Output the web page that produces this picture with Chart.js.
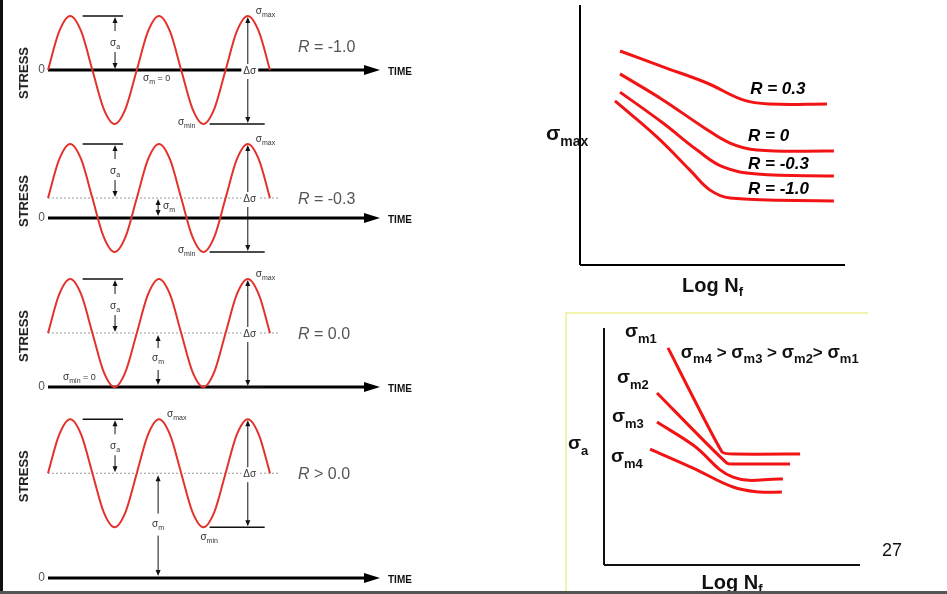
<!DOCTYPE html>
<html>
<head>
<meta charset="utf-8">
<script src="https://cdn.jsdelivr.net/npm/chart.js@4/dist/chart.umd.min.js"></script>
<style>
html, body { margin: 0; padding: 0; background: #fff; }
body { width: 947px; height: 594px; position: relative; overflow: hidden; }
canvas { position: absolute; }
.edge { position: absolute; }
</style>
</head>
<body>
<canvas id="wave0" width="430" height="136" style="left:0;top:0"></canvas>
<canvas id="wave1" width="430" height="132" style="left:0;top:136px"></canvas>
<canvas id="wave2" width="430" height="132" style="left:0;top:268px"></canvas>
<canvas id="wave3" width="430" height="190" style="left:0;top:400px"></canvas>
<canvas id="smaxChart" width="335" height="300" style="left:530px;top:0"></canvas>
<canvas id="saChart" width="345" height="281" style="left:565px;top:313px"></canvas>
<div class="edge" style="left:565px;top:312px;width:303px;height:2px;background:#f3f3b0"></div>
<div class="edge" style="left:565px;top:312px;width:2px;height:282px;background:#f3f3b0"></div>
<div class="edge" style="left:0;top:0;width:3px;height:594px;background:#111"></div>
<div class="edge" style="left:0;top:591px;width:947px;height:3px;background:#555"></div>
<script>
// time in cycles, read at eighth-period steps
var CYCLE_T = [0, 0.125, 0.25, 0.375, 0.5, 0.625, 0.75, 0.875, 1, 1.125, 1.25, 1.375, 1.5, 1.625, 1.75, 1.875, 2, 2.125, 2.25, 2.375, 2.5];

// stress, in units of the amplitude
var STRESS_R_M10 = [0, 0.71, 1, 0.71, 0, -0.71, -1, -0.71, 0, 0.71, 1, 0.71, 0, -0.71, -1, -0.71, 0, 0.71, 1, 0.71, 0];
var STRESS_R_M03 = [0.37, 1.08, 1.37, 1.08, 0.37, -0.34, -0.63, -0.34, 0.37, 1.08, 1.37, 1.08, 0.37, -0.34, -0.63, -0.34, 0.37, 1.08, 1.37, 1.08, 0.37];
var STRESS_R_00 = [1, 1.71, 2, 1.71, 1, 0.29, 0, 0.29, 1, 1.71, 2, 1.71, 1, 0.29, 0, 0.29, 1, 1.71, 2, 1.71, 1];
var STRESS_R_POS = [1.94, 2.65, 2.94, 2.65, 1.94, 1.23, 0.94, 1.23, 1.94, 2.65, 2.94, 2.65, 1.94, 1.23, 0.94, 1.23, 1.94, 2.65, 2.94, 2.65, 1.94];
var MEAN_STRESS = [0, 0.37, 1, 1.94];
var R_LABELS = ['-1.0', '-0.3', '0.0', '0.0'];
var R_SIGNS = ['=', '=', '=', '>'];

// sigma_max vs log Nf
var LOGN_R03 = [1.51, 3.13, 4.79, 6.15, 7.17, 9.32];
var SMAX_R03 = [8.23, 7.62, 7.0, 6.35, 6.19, 6.19];
var LOGN_R0 = [1.51, 3.13, 4.64, 5.66, 6.68, 9.58];
var SMAX_R0 = [7.35, 6.35, 5.31, 4.69, 4.42, 4.38];
var LOGN_RM03 = [1.51, 3.13, 4.42, 5.4, 6.68, 9.58];
var SMAX_RM03 = [6.65, 5.46, 4.42, 3.77, 3.5, 3.42];
var LOGN_RM10 = [1.32, 2.91, 4.15, 4.91, 5.66, 9.58];
var SMAX_RM10 = [6.31, 4.92, 3.65, 2.88, 2.58, 2.46];
var R_CURVE_LABELS = ['R = 0.3', 'R = 0', 'R = -0.3', 'R = -1.0'];

// sigma_a vs log Nf
var LOGN_M1 = [2.5, 4.61, 5.12, 7.66];
var SA_M1 = [9.16, 4.77, 4.68, 4.68];
var LOGN_M2 = [2.07, 4.8, 5.2, 7.27];
var SA_M2 = [7.26, 4.3, 4.26, 4.26];
var LOGN_M3 = [2.07, 3.48, 5.04, 6.99];
var SA_M3 = [6.03, 5.06, 3.71, 3.63];
var LOGN_M4 = [1.8, 3.48, 5.04, 6.09, 6.95];
var SA_M4 = [4.89, 4.09, 3.29, 3.08, 3.08];
var SIGMA_M_LABELS = ['m1', 'm2', 'm3', 'm4'];

var FONT = "'Liberation Sans', Arial, sans-serif";
function font(size, style) { return (style || '') + ' ' + size + 'px ' + FONT; }

function pts(xs, ys) { return xs.map(function (x, k) { return {x: x, y: ys[k]}; }); }

function line(ctx, x1, y1, x2, y2) {
  ctx.beginPath(); ctx.moveTo(x1, y1); ctx.lineTo(x2, y2); ctx.stroke();
}

// text made of runs: [text, font, dy, colour]
function rich(ctx, x, y, parts, align, bg) {
  var w = 0;
  parts.forEach(function (p) { ctx.font = p[1]; w += ctx.measureText(p[0]).width; });
  var cx = align === 'center' ? x - w / 2 : align === 'right' ? x - w : x;
  if (bg) { ctx.fillStyle = bg; ctx.fillRect(cx - 2, y - 9, w + 4, 12); }
  ctx.textAlign = 'left'; ctx.textBaseline = 'alphabetic';
  parts.forEach(function (p) {
    ctx.font = p[1]; ctx.fillStyle = p[3] || '#333';
    ctx.fillText(p[0], cx, y + (p[2] || 0));
    cx += ctx.measureText(p[0]).width;
  });
}

function sig(sub, size, subSize, style, color) {
  return [['σ', font(size, style), 0, color], [sub, font(subSize, style), size * 0.3, color]];
}

// vertical arrow segment from ya (top) to yb (bottom)
function vSeg(ctx, x, ya, yb, headTop, headBottom) {
  ctx.lineWidth = 1; ctx.strokeStyle = '#111'; ctx.fillStyle = '#111';
  line(ctx, x, ya + (headTop ? 4 : 0), x, yb - (headBottom ? 4 : 0));
  if (headTop) { ctx.beginPath(); ctx.moveTo(x, ya); ctx.lineTo(x - 2.5, ya + 6); ctx.lineTo(x + 2.5, ya + 6); ctx.closePath(); ctx.fill(); }
  if (headBottom) { ctx.beginPath(); ctx.moveTo(x, yb); ctx.lineTo(x - 2.5, yb - 6); ctx.lineTo(x + 2.5, yb - 6); ctx.closePath(); ctx.fill(); }
}

var baseOpts = {
  responsive: false, animation: false, devicePixelRatio: 1, events: [],
  plugins: {legend: {display: false}, tooltip: {enabled: false}},
  elements: {point: {radius: 0}}
};

// ---- left: stress-time panels ----
var PX_PER_CYCLE = 88.8, PX_PER_UNIT = 54, X_START = 48, PANEL_W = 430;
var PANELS = [
  {id: 'wave0', height: 136, zero: 70, data: STRESS_R_M10},
  {id: 'wave1', height: 132, zero: 82, data: STRESS_R_M03},
  {id: 'wave2', height: 132, zero: 119, data: STRESS_R_00},
  {id: 'wave3', height: 190, zero: 178, data: STRESS_R_POS}
];

function wavePlugin(i, p) {
  function geo(chart) {
    var xs = chart.scales.x, ys = chart.scales.y;
    return {
      X: function (t) { return xs.getPixelForValue(t); },
      Y: function (v) { return ys.getPixelForValue(v); },
      mean: MEAN_STRESS[i],
      peak: Math.max.apply(null, p.data),
      trough: Math.min.apply(null, p.data)
    };
  }
  return {
    id: 'wave' + i,
    beforeDatasetsDraw: function (chart) {
      var ctx = chart.ctx, g = geo(chart);
      var x0 = g.X(0), y0 = g.Y(0), ym = g.Y(g.mean);
      ctx.save();
      if (g.mean !== 0) {
        ctx.strokeStyle = '#999'; ctx.lineWidth = 1; ctx.setLineDash([2, 2]);
        line(ctx, x0, ym, g.X(2.5) + 8, ym);
        ctx.setLineDash([]);
      }
      // time axis
      ctx.strokeStyle = '#000'; ctx.lineWidth = 3;
      line(ctx, x0, y0, x0 + 320, y0);
      ctx.fillStyle = '#000';
      ctx.beginPath(); ctx.moveTo(x0 + 332, y0); ctx.lineTo(x0 + 316, y0 - 5); ctx.lineTo(x0 + 316, y0 + 5); ctx.closePath(); ctx.fill();
      ctx.restore();
    },
    afterDatasetsDraw: function (chart) {
      var ctx = chart.ctx, g = geo(chart);
      var X = g.X, Y = g.Y;
      var x0 = X(0), y0 = Y(0), ym = Y(g.mean), yp = Y(g.peak), yt = Y(g.trough);
      ctx.save();
      // axis texts
      ctx.fillStyle = '#555'; ctx.font = font(12); ctx.textAlign = 'right'; ctx.textBaseline = 'middle';
      ctx.fillText('0', x0 - 3, y0);
      ctx.fillStyle = '#111'; ctx.font = font(10, 'bold'); ctx.textAlign = 'left';
      ctx.fillText('TIME', x0 + 340, y0 + 2);
      ctx.save();
      ctx.translate(24, ym + 3); ctx.rotate(-Math.PI / 2);
      ctx.font = font(13, 'bold'); ctx.textAlign = 'center'; ctx.textBaseline = 'middle'; ctx.fillStyle = '#222';
      ctx.fillText('STRESS', 0, 0);
      ctx.restore();

      // reference lines at the peak and trough
      ctx.strokeStyle = '#111'; ctx.lineWidth = 1.5;
      line(ctx, X(0.39), yp, X(0.845), yp);
      line(ctx, X(1.82), yt, X(2.44), yt);

      // sigma a
      var xa = X(0.755);
      vSeg(ctx, xa, yp + 1, yp + 15, true, false);
      rich(ctx, xa, yp + 30, sig('a', 10, 7), 'center');
      vSeg(ctx, xa, ym - 18, ym - 1, false, true);

      // delta sigma
      var xd = X(2.25);
      rich(ctx, xd + 2, ym + 4, [['Δσ', font(10)]], 'center', '#fff');
      vSeg(ctx, xd, yp + 1, ym - 6, true, false);
      vSeg(ctx, xd, ym + 9, yt - 1, false, true);

      // sigma max / min
      if (i === 3) {
        rich(ctx, X(1.25) + 8, yp - 2, sig('max', 10, 7), 'left');
        rich(ctx, X(1.75) - 3, yt + 13, sig('min', 10, 7), 'left');
      } else {
        rich(ctx, X(2.25) + 8, yp - 2, sig('max', 10, 7), 'left');
        if (i === 2) {
          rich(ctx, X(0.17), y0 - 7, sig('min', 10, 7).concat([[' = 0', font(9)]]), 'left');
        } else {
          rich(ctx, X(1.75) - 8, yt + 1, sig('min', 10, 7), 'right');
        }
      }

      // sigma m
      var xm = X(1.24);
      if (i === 0) {
        rich(ctx, xm - 15, y0 + 11, sig('m', 10, 7).concat([[' = 0', font(9)]]), 'left');
      } else if (i === 1) {
        vSeg(ctx, xm, ym + 1, y0 - 2, true, true);
        rich(ctx, xm + 5, (ym + y0) / 2 + 1, sig('m', 10, 7), 'left');
      } else {
        var mid = (ym + y0) / 2;
        vSeg(ctx, xm, ym + 2, mid - 12, true, false);
        rich(ctx, xm, mid + 1, sig('m', 10, 7), 'center');
        vSeg(ctx, xm, mid + 10, y0 - 2, false, true);
      }

      // R label
      var ry = i === 0 ? y0 - 24 : ym;
      rich(ctx, x0 + 250, ry + 6, [
        ['R', font(16, 'italic'), 0, '#555'],
        [' ' + R_SIGNS[i] + ' ' + R_LABELS[i], font(16), 0, '#555']
      ], 'left');
      ctx.restore();
    }
  };
}

PANELS.forEach(function (p, i) {
  new Chart(document.getElementById(p.id), {
    type: 'line',
    data: {datasets: [{
      data: pts(CYCLE_T, p.data),
      borderColor: '#e3322b', borderWidth: 2,
      cubicInterpolationMode: 'monotone', fill: false
    }]},
    options: Object.assign({}, baseOpts, {
      layout: {padding: 0},
      scales: {
        x: {type: 'linear', display: false, min: -X_START / PX_PER_CYCLE, max: (PANEL_W - X_START) / PX_PER_CYCLE},
        y: {type: 'linear', display: false, min: -(p.height - p.zero) / PX_PER_UNIT, max: p.zero / PX_PER_UNIT}
      }
    }),
    plugins: [wavePlugin(i, p)]
  });
});

// ---- right top: sigma max vs log Nf ----
var curveStyle = {borderColor: '#f21414', borderWidth: 3, tension: 0.4, fill: false};
var smaxLabels = {
  id: 'smaxLabels',
  afterDraw: function (chart) {
    var ctx = chart.ctx, a = chart.chartArea, xs = chart.scales.x, ys = chart.scales.y;
    ctx.save();
    ctx.strokeStyle = '#000'; ctx.lineWidth = 2;
    line(ctx, a.left, a.top, a.left, a.bottom);
    line(ctx, a.left, a.bottom, a.right, a.bottom);
    var pos = [[6.42, 6.8], [6.34, 5.0], [6.34, 3.92], [6.34, 2.96]];
    R_CURVE_LABELS.forEach(function (t, k) {
      rich(ctx, xs.getPixelForValue(pos[k][0]), ys.getPixelForValue(pos[k][1]) + 6,
        [[t, font(17, 'italic bold'), 0, '#000']], 'left');
    });
    rich(ctx, a.left - 34, ys.getPixelForValue(5.08) + 7, sig('max', 21, 14, 'bold', '#111'), 'left');
    rich(ctx, (a.left + a.right) / 2, a.bottom + 27,
      [['Log N', font(20, 'bold'), 0, '#111'], ['f', font(13, 'bold'), 4, '#111']], 'center');
    ctx.restore();
  }
};
new Chart(document.getElementById('smaxChart'), {
  type: 'line',
  data: {datasets: [
    Object.assign({data: pts(LOGN_R03, SMAX_R03)}, curveStyle),
    Object.assign({data: pts(LOGN_R0, SMAX_R0)}, curveStyle),
    Object.assign({data: pts(LOGN_RM03, SMAX_RM03)}, curveStyle),
    Object.assign({data: pts(LOGN_RM10, SMAX_RM10)}, curveStyle)
  ]},
  options: Object.assign({}, baseOpts, {
    layout: {padding: {left: 50, top: 5, right: 20, bottom: 35}},
    scales: {
      x: {type: 'linear', display: false, min: 0, max: 10},
      y: {type: 'linear', display: false, min: 0, max: 10}
    }
  }),
  plugins: [smaxLabels]
});

// ---- right bottom: sigma a vs log Nf ----
var saLabels = {
  id: 'saLabels',
  afterDraw: function (chart) {
    var ctx = chart.ctx, a = chart.chartArea, xs = chart.scales.x, ys = chart.scales.y;
    ctx.save();
    ctx.strokeStyle = '#111'; ctx.lineWidth = 2;
    line(ctx, a.left, a.top, a.left, a.bottom);
    line(ctx, a.left, a.bottom, a.right, a.bottom);
    var pos = [[0.82, 9.83], [0.51, 7.89], [0.31, 6.24], [0.27, 4.56]];
    SIGMA_M_LABELS.forEach(function (s, k) {
      rich(ctx, xs.getPixelForValue(pos[k][0]), ys.getPixelForValue(pos[k][1]) + 5, sig(s, 19, 13, 'bold', '#111'), 'left');
    });
    var order = [];
    ['m4', 'm3', 'm2', 'm1'].forEach(function (s, k) {
      order = order.concat(sig(s, 18, 13, 'bold', '#111'));
      if (k < 3) order.push([k === 2 ? '> ' : ' > ', font(17, 'bold'), 0, '#111']);
    });
    rich(ctx, xs.getPixelForValue(3.0), ys.getPixelForValue(8.95) + 5, order, 'left');
    rich(ctx, a.left - 36, ys.getPixelForValue(5.1) + 5, sig('a', 19, 13, 'bold', '#111'), 'left');
    rich(ctx, (a.left + a.right) / 2, a.bottom + 24,
      [['Log N', font(20, 'bold'), 0, '#111'], ['f', font(13, 'bold'), 4, '#111']], 'center');
    rich(ctx, a.right + 22, a.bottom - 9, [['27', font(18), 0, '#111']], 'left');
    ctx.restore();
  }
};
new Chart(document.getElementById('saChart'), {
  type: 'line',
  data: {datasets: [
    Object.assign({data: pts(LOGN_M1, SA_M1)}, curveStyle, {tension: 0.15}),
    Object.assign({data: pts(LOGN_M2, SA_M2)}, curveStyle, {tension: 0.2}),
    Object.assign({data: pts(LOGN_M3, SA_M3)}, curveStyle),
    Object.assign({data: pts(LOGN_M4, SA_M4)}, curveStyle)
  ]},
  options: Object.assign({}, baseOpts, {
    layout: {padding: {left: 39, top: 15, right: 50, bottom: 29}},
    scales: {
      x: {type: 'linear', display: false, min: 0, max: 10},
      y: {type: 'linear', display: false, min: 0, max: 10}
    }
  }),
  plugins: [saLabels]
});
</script>
</body>
</html>
